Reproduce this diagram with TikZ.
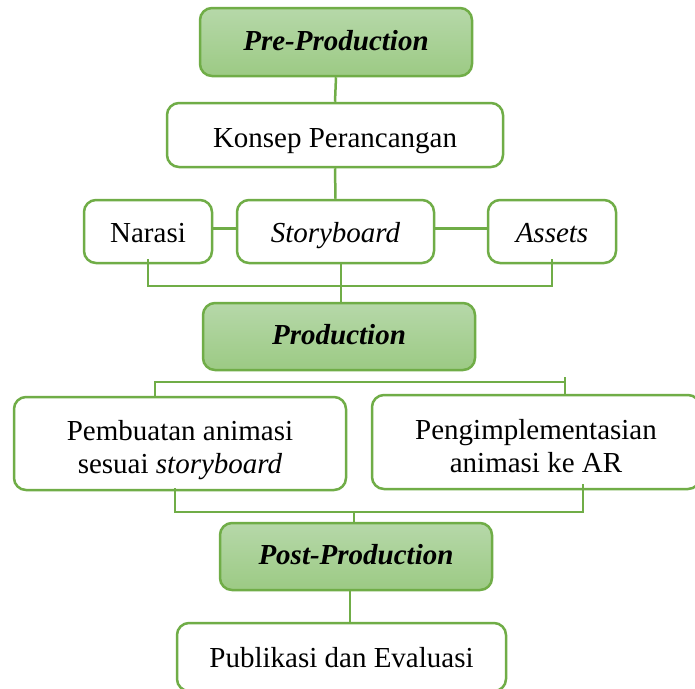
\documentclass[tikz,border=0pt]{standalone}
\usepackage{fontspec}
\setmainfont{Liberation Serif}
\usetikzlibrary{calc}

\definecolor{leaf}{HTML}{70AD47}
\definecolor{leaftop}{HTML}{B6D8A9}
\definecolor{leafbot}{HTML}{9CCA84}

\tikzset{
	box/.style = {draw = leaf, line width = 2.5pt, rounded corners = 12pt, fill = white,
		inner sep = 0pt, align = center, font = \fontsize{29}{33}\selectfont},
	phase/.style = {box, top color = leaftop, bottom color = leafbot,
		font = \fontsize{29}{33}\selectfont\bfseries\itshape, single = 22.6pt},
	single/.style = {text height = #1, text depth = 6.4pt},
	single/.default = 27.5pt,
	link/.style = {draw = leaf, line width = 2.5pt}
}

\begin{document}
\begin{tikzpicture}[x = 1pt, y = -1pt]

	% Page
	
	\useasboundingbox (0, 0) rectangle (695, 688);
	\fill[white] (0, 0) rectangle (695, 688);

	% Phases and steps
	
	\node[phase, minimum width = 272pt, minimum height = 68pt] (pre) at (336, 42) {Pre-Production};
	\node[box, single = 30.5pt, minimum width = 336pt, minimum height = 64pt] (konsep) at (335, 135) {Konsep Perancangan};
	\node[box, single, minimum width = 128pt, minimum height = 63pt] (narasi) at (148, 231.5) {Narasi};
	\node[box, single, minimum width = 197pt, minimum height = 63pt] (story) at (335.5, 231.5) {\textit{Storyboard}};
	\node[box, single, minimum width = 128pt, minimum height = 63pt] (assets) at (552, 231.5) {\textit{Assets}};
	\node[phase, minimum width = 272pt, minimum height = 67pt] (prod) at (339, 336.5) {Production};
	\node[box, minimum width = 332pt, minimum height = 93pt] (buat) at (180, 443.5) {\rule{0pt}{34pt}Pembuatan animasi\\sesuai \textit{storyboard}};
	\node[box, minimum width = 328pt, minimum height = 94pt] (impl) at (536, 442) {\rule{0pt}{29pt}Pengimplementasian\\animasi ke AR};
	\node[phase, minimum width = 272pt, minimum height = 67pt] (post) at (356, 556.5) {Post-Production};
	\node[box, single, minimum width = 329pt, minimum height = 68pt] (publ) at (341.5, 657) {Publikasi dan Evaluasi};

	% Joints of the brackets
	
	\coordinate (j1) at (341, 286);
	\coordinate (k1) at (155, 382);
	\coordinate (k2) at (565, 382);
	\coordinate (m1) at (175, 512);
	\coordinate (m2) at (583, 512);
	\coordinate (m3) at (354, 512);

	% Links
	
	\begin{scope}[link]
	
		\draw (pre.south) -- (konsep.north);
		\draw (konsep.south) -- (story.north);
		\draw ([yshift = 3pt]narasi.east) -- ([yshift = 3pt]story.west);
		\draw ([yshift = 3pt]story.east) -- ([yshift = 3pt]assets.west);
		\draw ([yshift = 5pt]narasi.south) |- (j1) -| ([yshift = 5pt]assets.south);
		\draw (story.south -| j1) -- (prod.north -| j1);
		\draw ([yshift = -2pt]buat.north -| k1) -- (k1) -- (k2) -- ([yshift = -2pt]impl.north -| k2);
		\draw (k2) -- ++(0, -5);
		\draw ([yshift = 3pt]buat.south -| m1) |- (m2) -- ([yshift = 6pt]impl.south -| m2);
		\draw (m3) -- (post.north -| m3);
		\draw ([xshift = -6pt]post.south) -- ([xshift = -6pt]post.south |- publ.north);
		
	\end{scope}

\end{tikzpicture}
\end{document}
